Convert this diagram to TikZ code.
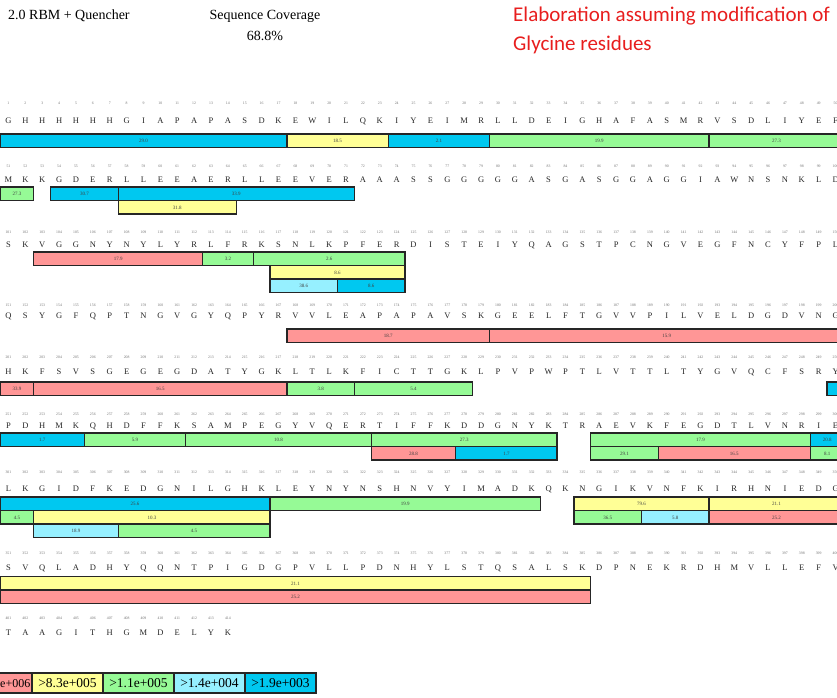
\documentclass[tikz,border=0pt]{standalone}
\usepackage{fontspec}
\setmainfont{Liberation Serif}
\newfontfamily\calib{Carlito}
\definecolor{cB}{RGB}{0,200,240}
\definecolor{cY}{RGB}{255,255,150}
\definecolor{cG}{RGB}{150,250,150}
\definecolor{cC}{RGB}{150,240,255}
\definecolor{cR}{RGB}{255,150,150}
\definecolor{tred}{RGB}{232,30,30}
\tikzset{
  numsty/.style={font=\fontsize{3.8}{4}\selectfont, text=black!55, inner sep=0pt},
  letsty/.style={font=\fontsize{8.5}{9}\selectfont, text=black!85, inner sep=0pt},
  pbar/.style={draw=black!85, line width=1.3pt},
  blab/.style={font=\fontsize{5}{5}\selectfont, text=black!75, inner sep=0pt},
  legbox/.style={draw=black!85, line width=1.1pt},
  legtxt/.style={font=\fontsize{13.5}{13.5}\selectfont, inner sep=0pt},
  head/.style={font=\fontsize{14}{14}\selectfont, inner sep=0pt},
  redhead/.style={font=\calib\fontsize{21}{21}\selectfont, text=tred, inner sep=0pt, anchor=west},
}
\newcommand\sqw{16.88}
\newcommand\seqrow[4]{%
  \foreach \c [count=\i] in {#4} {%
    \pgfmathtruncatemacro\nn{(#1-1)*50+\i}%
    \node[numsty] (n#1-\i) at ({(\i-0.5)*\sqw},#2) {\nn};
    \node[letsty] (l#1-\i) at ({(\i-0.5)*\sqw},#3) {\c};
  }}
\newcommand\pb[6]{%
  \draw[pbar,fill=#5] ({(#3-1)*\sqw},#2) rectangle ({#4*\sqw},#2+13.5);
  \node[blab] (b#1) at ({(#3-1+#4)*\sqw/2},#2+6.9) {#6};}
\begin{document}
\begin{tikzpicture}[x=1pt,y=-1pt]
\useasboundingbox (0,0) rectangle (837,697);
\fill[white] (0,0) rectangle (837,697);
\begin{scope}
\clip (0,0) rectangle (837,697);
% headers
\node[head, anchor=west] (title) at (8,16) {2.0 RBM + Quencher};
\node[head] (covt) at (265,16) {Sequence Coverage};
\node[head] (covv) at (265,36) {68.8\%};
\node[redhead] (red1) at (513,16) {Elaboration assuming modification of};
\node[redhead] (red2) at (513,45) {Glycine residues};
% rows
\seqrow{1}{103}{121}{G,H,H,H,H,H,H,G,I,A,P,A,P,A,S,D,K,E,W,I,L,Q,K,I,Y,E,I,M,R,L,L,D,E,I,G,H,A,F,A,S,M,R,V,S,D,L,I,Y,E,F}
\seqrow{2}{166}{180}{M,K,K,G,D,E,R,L,L,E,E,A,E,R,L,L,E,E,V,E,R,A,A,A,S,S,G,G,G,G,G,A,S,G,A,S,G,G,A,G,G,I,A,W,N,S,N,K,L,D}
\seqrow{3}{232}{245}{S,K,V,G,G,N,Y,N,Y,L,Y,R,L,F,R,K,S,N,L,K,P,F,E,R,D,I,S,T,E,I,Y,Q,A,G,S,T,P,C,N,G,V,E,G,F,N,C,Y,F,P,L}
\seqrow{4}{305}{316}{Q,S,Y,G,F,Q,P,T,N,G,V,G,Y,Q,P,Y,R,V,V,L,E,A,P,A,P,A,V,S,K,G,E,E,L,F,T,G,V,V,P,I,L,V,E,L,D,G,D,V,N,G}
\seqrow{5}{357}{372}{H,K,F,S,V,S,G,E,G,E,G,D,A,T,Y,G,K,L,T,L,K,F,I,C,T,T,G,K,L,P,V,P,W,P,T,L,V,T,T,L,T,Y,G,V,Q,C,F,S,R,Y}
\seqrow{6}{414}{426}{P,D,H,M,K,Q,H,D,F,F,K,S,A,M,P,E,G,Y,V,Q,E,R,T,I,F,F,K,D,D,G,N,Y,K,T,R,A,E,V,K,F,E,G,D,T,L,V,N,R,I,E}
\seqrow{7}{472}{489}{L,K,G,I,D,F,K,E,D,G,N,I,L,G,H,K,L,E,Y,N,Y,N,S,H,N,V,Y,I,M,A,D,K,Q,K,N,G,I,K,V,N,F,K,I,R,H,N,I,E,D,G}
\seqrow{8}{553}{568}{S,V,Q,L,A,D,H,Y,Q,Q,N,T,P,I,G,D,G,P,V,L,L,P,D,N,H,Y,L,S,T,Q,S,A,L,S,K,D,P,N,E,K,R,D,H,M,V,L,L,E,F,V}
\seqrow{9}{618}{633}{T,A,A,G,I,T,H,G,M,D,E,L,Y,K}
% bars row 1
\pb{1a}{134}{1}{17}{cB}{29.0}
\pb{1b}{134}{18}{23}{cY}{18.5}
\pb{1c}{134}{24}{29}{cB}{2.1}
\pb{1d}{134}{30}{42}{cG}{19.9}
\pb{1e}{134}{43}{50}{cG}{27.3}
% row 2
\pb{2a}{187}{1}{2}{cG}{27.3}
\pb{2b}{187}{4}{7}{cB}{30.7}
\pb{2c}{187}{8}{21}{cB}{33.9}
\pb{2d}{200.5}{8}{14}{cY}{31.8}
% row 3
\pb{3a}{252}{3}{12}{cR}{17.9}
\pb{3b}{252}{13}{15}{cG}{3.2}
\pb{3c}{252}{16}{24}{cG}{2.6}
\pb{3d}{265.5}{17}{24}{cY}{8.6}
\pb{3e}{279}{17}{20}{cC}{38.6}
\pb{3f}{279}{21}{24}{cB}{8.6}
% row 4
\pb{4a}{329}{18}{29}{cR}{18.7}
\pb{4b}{329}{30}{50}{cR}{15.9}
% row 5
\pb{5a}{382}{1}{2}{cR}{33.9}
\pb{5b}{382}{3}{17}{cR}{16.5}
\pb{5c}{382}{18}{21}{cG}{3.8}
\pb{5d}{382}{22}{28}{cG}{5.4}
\pb{5e}{382}{50}{51}{cB}{}
% row 6
\pb{6a}{433}{1}{5}{cB}{1.7}
\pb{6b}{433}{6}{11}{cG}{5.9}
\pb{6c}{433}{12}{22}{cG}{10.8}
\pb{6d}{433}{23}{33}{cG}{27.3}
\pb{6e}{433}{36}{48}{cG}{17.9}
\pb{6f}{433}{49}{50}{cB}{20.8}
\pb{6g}{446.5}{23}{27}{cR}{28.8}
\pb{6h}{446.5}{28}{33}{cB}{1.7}
\pb{6i}{446.5}{36}{39}{cG}{29.1}
\pb{6j}{446.5}{40}{48}{cR}{16.5}
\pb{6k}{446.5}{49}{50}{cG}{8.1}
% row 7
\pb{7a}{497}{1}{16}{cB}{25.6}
\pb{7b}{497}{17}{32}{cG}{19.9}
\pb{7c}{497}{35}{42}{cY}{79.6}
\pb{7d}{497}{43}{50}{cY}{21.1}
\pb{7e}{510.5}{1}{2}{cG}{4.5}
\pb{7f}{510.5}{3}{16}{cY}{10.3}
\pb{7g}{510.5}{35}{38}{cG}{36.5}
\pb{7h}{510.5}{39}{42}{cC}{5.8}
\pb{7i}{510.5}{43}{50}{cR}{25.2}
\pb{7j}{524}{3}{7}{cC}{18.9}
\pb{7k}{524}{8}{16}{cG}{4.5}
% row 8
\pb{8a}{576.5}{1}{35}{cY}{21.1}
\pb{8b}{590}{1}{35}{cR}{25.2}
% legend
\draw[legbox,fill=cR] (-40,673) rectangle (32,693);
\draw[legbox,fill=cY] (32,673) rectangle (103,693);
\draw[legbox,fill=cG] (103,673) rectangle (174,693);
\draw[legbox,fill=cC] (174,673) rectangle (245,693);
\draw[legbox,fill=cB] (245,673) rectangle (316,693);
\node[legtxt, font=\fontsize{12}{12}\selectfont, anchor=east] (lg1) at (30.5,683.5) {e+006};
\node[legtxt] (lg2) at (67.5,683.5) {>8.3e+005};
\node[legtxt] (lg3) at (138.5,683.5) {>1.1e+005};
\node[legtxt] (lg4) at (209.5,683.5) {>1.4e+004};
\node[legtxt] (lg5) at (280.5,683.5) {>1.9e+003};
\end{scope}
\end{tikzpicture}
\end{document}
